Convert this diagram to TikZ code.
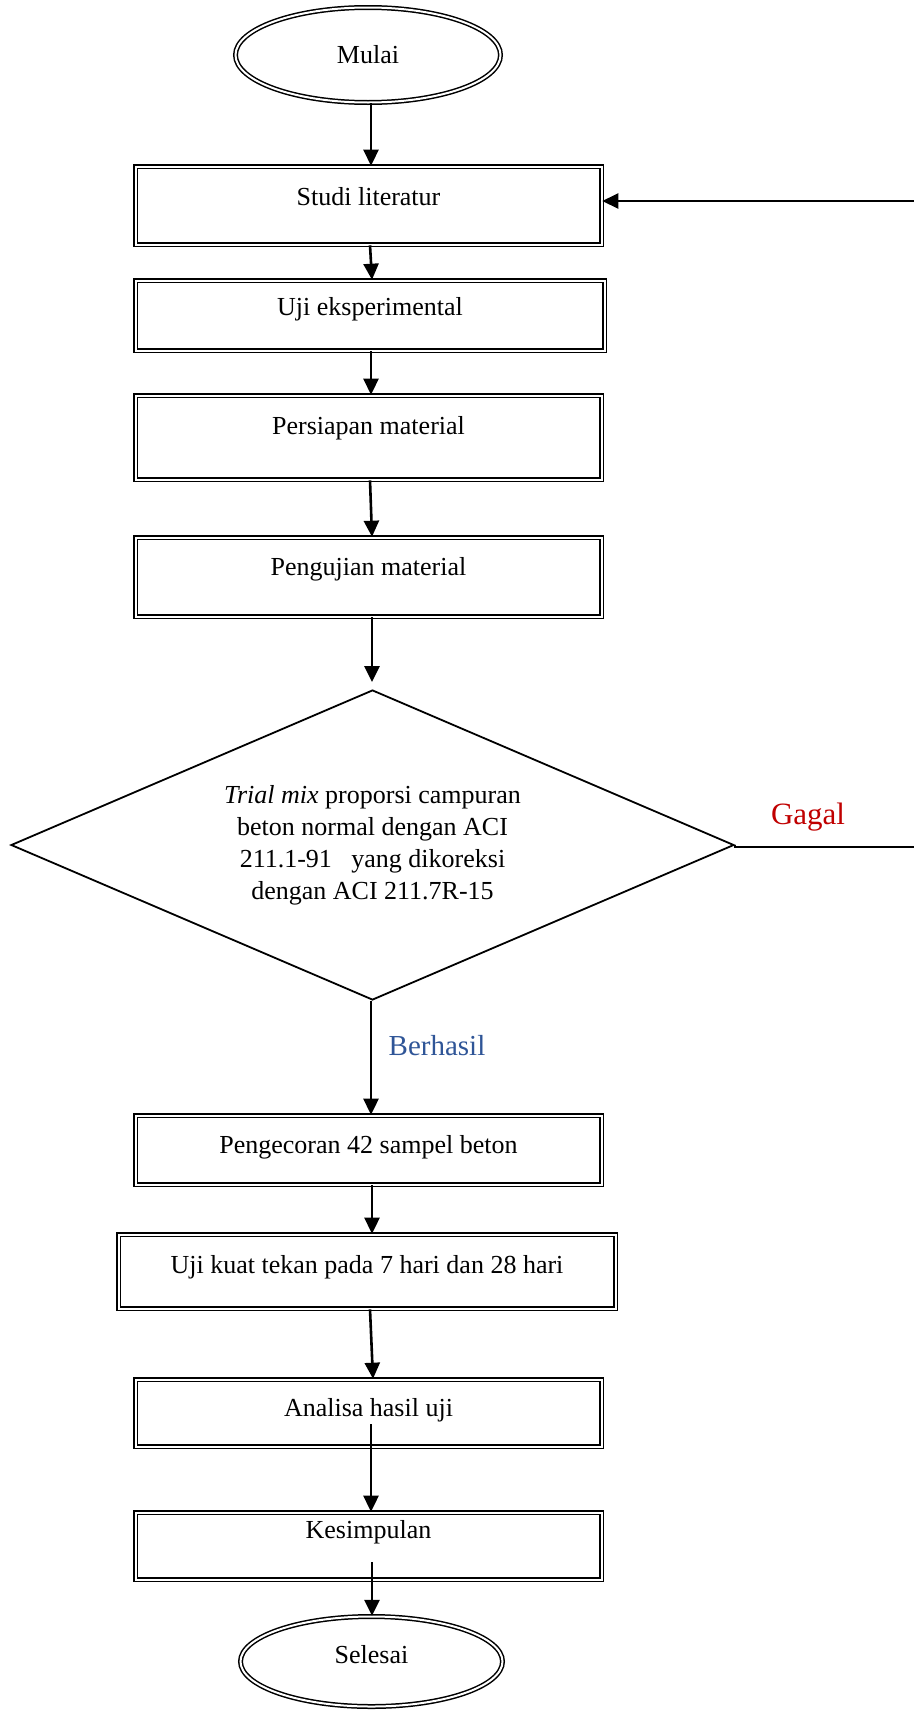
\documentclass[tikz,border=0pt]{standalone}
\usepackage{fontspec}
\setmainfont{Liberation Serif}
\usetikzlibrary{shapes.geometric,arrows.meta,calc}
\definecolor{gagalred}{RGB}{192,0,0}
\definecolor{okblue}{RGB}{47,85,151}
\begin{document}
\begin{tikzpicture}[x=1pt,y=-1pt,
  every node/.style={font=\fontsize{26}{32}\selectfont},
  dbox/.style={draw, double, double distance=2pt, line width=1.6pt, rectangle, inner sep=0pt},
  dell/.style={draw, double, double distance=2pt, line width=1.5pt, ellipse, inner sep=0pt},
  decision/.style={draw, diamond, line width=1.8pt, inner sep=0pt},
  flow/.style={line width=2.6pt, -{Triangle[length=16pt,width=15pt]}},
  plain/.style={line width=2.4pt},
  lbl/.style={inner sep=0pt, align=center}]
\useasboundingbox (0,0) rectangle (913,1713);

% terminals
\node[dell, minimum width=265, minimum height=95] (mulai) at (368,55) {};
\node[lbl] (tmulai) at (368,55) {Mulai};
\node[dell, minimum width=262, minimum height=90] (selesai) at (371.5,1661.5) {};
\node[lbl] (tselesai) at (371.5,1654.5) {Selesai};

% process boxes
\node[dbox, minimum width=466, minimum height=78] (studi) at (368.5,205.5) {};
\node[lbl] (tstudi) at (368.5,197) {Studi literatur};
\node[dbox, minimum width=469, minimum height=70] (ujieks) at (370,315.5) {};
\node[lbl] (tujieks) at (370,309) {Uji eksperimental};
\node[dbox, minimum width=466, minimum height=84] (persiapan) at (368.5,437.5) {};
\node[lbl] (tpersiapan) at (368.5,428) {Persiapan material};
\node[dbox, minimum width=466, minimum height=79] (pengujian) at (368.5,577) {};
\node[lbl] (tpengujian) at (368.5,569) {Pengujian material};

% decision
\node[decision, minimum width=723, minimum height=310] (dia) at (372.5,845) {};
\node[lbl] (tdia) at (372.5,845) {\textit{Trial mix} proporsi campuran\\beton normal dengan ACI\\211.1-91~~ yang dikoreksi\\dengan ACI 211.7R-15};

\node[dbox, minimum width=466, minimum height=69] (pengecoran) at (368.5,1150) {};
\node[lbl] (tpengecoran) at (368.5,1147) {Pengecoran 42 sampel beton};
\node[dbox, minimum width=497, minimum height=74] (ujikuat) at (367,1271.5) {};
\node[lbl] (tujikuat) at (367,1267) {Uji kuat tekan pada 7 hari dan 28 hari};
\node[dbox, minimum width=466, minimum height=67] (analisa) at (368.5,1413) {};
\node[lbl] (tanalisa) at (368.5,1410) {Analisa hasil uji};
\node[dbox, minimum width=466, minimum height=67] (kesimpulan) at (368.5,1546) {};
\node[lbl] (tkesimpulan) at (368.5,1532) {Kesimpulan};

% branch labels
\node[lbl, text=gagalred, font=\fontsize{31}{36}\selectfont] (gagal) at (808,817) {Gagal};
\node[lbl, text=okblue, font=\fontsize{29}{34}\selectfont] (berhasil) at (437,1046) {Berhasil};

% connectors
\draw[flow] (mulai.south -| 371,0) -- (studi.north -| 371,0);
\draw[flow] (studi.south -| 370,0) -- (ujieks.north -| 372,0);
\draw[flow] (ujieks.south -| 371,0) -- (persiapan.north -| 371,0);
\draw[flow] (persiapan.south -| 370,0) -- (pengujian.north -| 372,0);
\draw[flow, shorten >=7pt] (pengujian.south -| 372,0) -- (dia.north -| 372,0);
\draw[flow] (dia.south -| 371,0) -- (pengecoran.north -| 371,0);
\draw[flow] (pengecoran.south -| 372,0) -- (ujikuat.north -| 372,0);
\draw[flow] (ujikuat.south -| 370,0) -- (analisa.north -| 373,0);
\draw[flow] ($(analisa.south -| 371,0)+(0,-23)$) -- (kesimpulan.north -| 371,0);
\draw[flow] ($(kesimpulan.south -| 372,0)+(0,-18)$) -- (selesai.north -| 372,0);

% feedback loop (vertical leg lies beyond the right edge)
\coordinate (fbbot) at (940,847);
\coordinate (fbtop) at (940,201);
\draw[plain] (dia.east) -- (dia.east |- fbbot) -- (fbbot);
\draw[flow] (fbbot) -- (fbtop) -- (fbtop -| studi.east);
\end{tikzpicture}
\end{document}
